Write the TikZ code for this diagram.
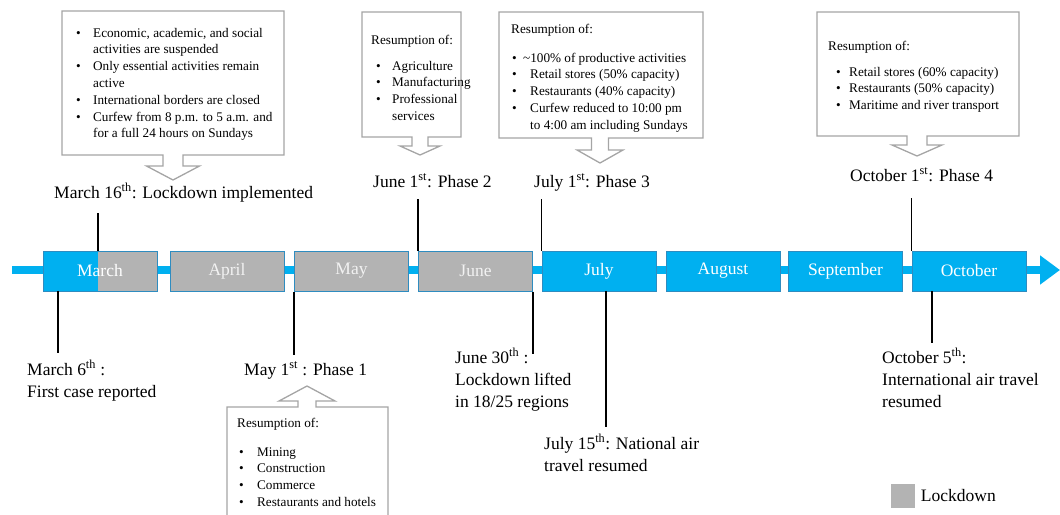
\documentclass[tikz,border=0pt]{standalone}
\usepackage{fontspec}
\setmainfont{Liberation Serif}
\usetikzlibrary{arrows.meta,positioning}
\definecolor{TimeBlue}{HTML}{00B0F0}
\definecolor{EdgeBlue}{HTML}{2E8CC0}
\definecolor{LockGrey}{HTML}{B3B3B3}
\definecolor{NoteGrey}{HTML}{A5A5A5}
\newcommand{\itm}[2]{\hspace*{#1}\makebox[#2][l]{\textbullet}}
\newcommand{\callout}[9]{%
  \draw[note] (#1,#2) -- (#3,#2) -- (#3,#4) -- ({#5+#6},#4) -- ({#5+#6},#8)
    -- ({#5+#7},#8) -- (#5,#9) -- ({#5-#7},#8) -- ({#5-#6},#8) -- ({#5-#6},#4)
    -- (#1,#4) -- cycle;}

\begin{document}
\begin{tikzpicture}[x=1pt, y=-1pt, >=Latex,
    month/.style={draw=EdgeBlue, line width=1pt, fill=TimeBlue, minimum width=114pt, minimum height=40pt, inner sep=0pt, text=white, font=\fontsize{17.5}{22}\selectfont},
    shut/.style={month, fill=LockGrey, text=white!95!black},
    lbl/.style={font=\fontsize{17.5}{22}\selectfont, align=left, inner sep=0pt, anchor=base west},
    notetext/.style={font=\fontsize{13.2}{16.8}\selectfont, align=left, inner sep=0pt, anchor=base west},
    note/.style={draw=NoteGrey, line width=1.3pt, fill=white},
    tick/.style={line width=1.2pt, black}]
    \useasboundingbox (0,0) rectangle (1060,514);

    % timeline
    \coordinate (tl0) at (12,270);
    \coordinate (tl1) at (1060,270);
    \draw[TimeBlue, line width=8pt, -{Triangle[length=20pt, width=28pt]}] (tl0) -- (tl1);

    \node[month, path picture={\fill[LockGrey] ([xshift=55pt]path picture bounding box.south west) rectangle (path picture bounding box.north east);}] (mar) at (100,271) {March};
    \node[shut] (apr) at (227,271) {April};
    \node[shut] (may) at (351.5,271) {May};
    \node[shut] (jun) at (475.5,271) {June};
    \node[month] (jul) at (599,271) {July};
    \node[month] (aug) at (723,271) {August};
    \node[month] (sep) at (845.5,271) {September};
    \node[month] (oct) at (969,271) {October};

    % callouts above (text nodes sit on their last baseline)
    \callout{62}{11}{284}{155}{173}{10}{26.5}{166}{180}
    \node[notetext] (lock) at (76,137.8) {\itm{0pt}{17pt}Economic, academic, and social\\
      \hspace*{17pt}activities are suspended\\
      \itm{0pt}{17pt}Only essential activities remain\\
      \hspace*{17pt}active\\
      \itm{0pt}{17pt}International borders are closed\\
      \itm{0pt}{17pt}Curfew from 8 p.m. to 5 a.m. and\\
      \hspace*{17pt}for a full 24 hours on Sundays};

    \callout{362}{12}{461}{137}{420}{8}{20}{146}{155}
    \node[notetext] (ph2) at (371,120.5) {Resumption of:\\[9.3pt]
      \itm{5pt}{16pt}Agriculture\\
      \itm{5pt}{16pt}Manufacturing\\
      \itm{5pt}{16pt}Professional\\
      \hspace*{21pt}services};

    \callout{499}{12}{703}{138}{600}{8.5}{23}{150}{163}
    \node[notetext] (ph3) at (511,129.3) {Resumption of:\\[12.3pt]
      \itm{1pt}{11pt}\textasciitilde100\% of productive activities\\
      \itm{1pt}{18pt}Retail stores (50\% capacity)\\
      \itm{1pt}{18pt}Restaurants (40\% capacity)\\
      \itm{1pt}{18pt}Curfew reduced to 10:00 pm\\
      \hspace*{19pt}to 4:00 am including Sundays};

    \callout{817}{12}{1019}{136}{917}{10}{25}{145}{156}
    \node[notetext] (ph4) at (828,109.7) {Resumption of:\\[9.3pt]
      \itm{8pt}{13pt}Retail stores (60\% capacity)\\
      \itm{8pt}{13pt}Restaurants (50\% capacity)\\
      \itm{8pt}{13pt}Maritime and river transport};

    % callout below
    \callout{227}{530}{388}{407}{307}{9}{28}{401}{386}
    \node[notetext] (ph1) at (237,506.5) {Resumption of:\\[12.3pt]
      \itm{2pt}{18pt}Mining\\
      \itm{2pt}{18pt}Construction\\
      \itm{2pt}{18pt}Commerce\\
      \itm{2pt}{18pt}Restaurants and hotels};

    % dates
    \node[lbl] (l16) at (54,198) {March 16\textsuperscript{th}: Lockdown implemented};
    \node[lbl] (p2) at (373,187) {June 1\textsuperscript{st}: Phase 2};
    \node[lbl] (p3) at (534,187) {July 1\textsuperscript{st}: Phase 3};
    \node[lbl] (p4) at (850,181) {October 1\textsuperscript{st}: Phase 4};
    \node[lbl] (l6) at (27,397) {March 6\textsuperscript{th} :\\First case reported};
    \node[lbl] (p1) at (244,375) {May 1\textsuperscript{st} : Phase 1};
    \node[lbl] (l30) at (455,407) {June 30\textsuperscript{th} :\\Lockdown lifted\\in 18/25 regions};
    \node[lbl] (l15) at (544,471) {July 15\textsuperscript{th}: National air\\travel resumed};
    \node[lbl] (l5) at (882,407) {October 5\textsuperscript{th}:\\International air travel\\resumed};

    \coordinate (t16) at (98,251);
    \coordinate (t6) at (58,291);
    \coordinate (t15) at (606,291);
    \coordinate (t5) at (932,291);
    \draw[tick, shorten <=15pt] (l16.base -| t16) -- (t16);
    \draw[tick, shorten <=12pt] (p2.base -| jun.north west) -- (jun.north west);
    \draw[tick, shorten <=12pt] (p3.base -| jul.north west) -- (jul.north west);
    \draw[tick, shorten <=17pt] (p4.base -| oct.north west) -- (oct.north west);
    \draw[tick, shorten >=44pt] (t6) -- (t6 |- l6.base);
    \draw[tick, shorten >=20pt] (may.south west) -- (may.south west |- p1.base);
    \draw[tick, shorten >=53pt] (jun.south east) -- (jun.south east |- l30.base);
    \draw[tick, shorten >=44pt] (t15) -- (t15 |- l15.base);
    \draw[tick, shorten >=64pt] (t5) -- (t5 |- l5.base);

    % legend
    \node[fill=LockGrey, minimum size=24pt, inner sep=0pt] (key) at (902.5,495.5) {};
    \node[font=\fontsize{17.5}{22}\selectfont, inner sep=0pt, right=6pt of key] (keytext) {Lockdown};
  \end{tikzpicture}
\end{document}
